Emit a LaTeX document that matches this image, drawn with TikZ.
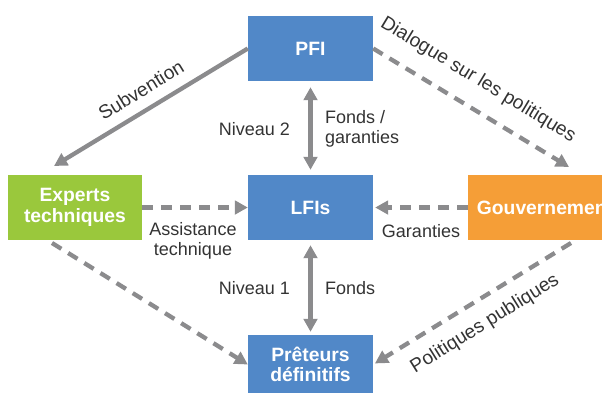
\documentclass[tikz,border=0pt]{standalone}
\usepackage{fontspec}
\setmainfont{Liberation Sans}
\usetikzlibrary{arrows.meta}
\definecolor{boxblue}{HTML}{5188C8}
\definecolor{boxgreen}{HTML}{9AC83C}
\definecolor{boxorange}{HTML}{F59E37}
\definecolor{arrowgray}{HTML}{8B8B8D}
\definecolor{labelgray}{HTML}{333333}
\begin{document}
\begin{tikzpicture}[x=1pt,y=-1pt,
  box/.style={fill=#1, text=white, font=\fontsize{19.3}{20.5}\selectfont\bfseries, align=center, inner sep=0pt},
  lbl/.style={text=labelgray, font=\fontsize{18}{20}\selectfont, inner sep=0pt},
  rlbl/.style={lbl, font=\fontsize{19.2}{20}\selectfont},
  conn/.style={draw=arrowgray, line width=4.3pt, -{Triangle[length=13pt,width=13.5pt]}},
  dashconn/.style={conn, dash pattern=on 11pt off 8pt},
  both/.style={draw=arrowgray, line width=4.3pt, {Triangle[length=13pt,width=13.5pt]}-{Triangle[length=13pt,width=13.5pt]}}]
\useasboundingbox (0,0) rectangle (602,392);
\clip (0,0) rectangle (602,392);
% boxes
\node[box=boxblue, minimum width=125pt, minimum height=65pt] (pfi) at (310.5,48.5) {PFI};
\node[box=boxblue, minimum width=125pt, minimum height=65pt] (lfi) at (310.5,207.5) {LFIs};
\node[box=boxgreen, minimum width=134pt, minimum height=65pt] (exp) at (75,207.5) {Experts\\techniques};
\node[box=boxorange, minimum width=154pt, minimum height=65pt] (gov) at (545,207.5) {Gouvernement};
\node[box=boxblue, minimum width=125pt, minimum height=59pt] (pret) at (310.5,364.5) {Prêteurs\\définitifs};
% free ends
\coordinate (subend) at (54,166);
\coordinate (dialend) at (569,167);
\coordinate (expstart) at (52,243);
\coordinate (govstart) at (571,243);
% connectors
\draw[conn] (pfi.west) -- (subend);
\draw[dashconn] (pfi.east) -- (dialend);
\draw[both, shorten <=6pt, shorten >=5pt] (pfi.south) -- (lfi.north);
\draw[both, shorten <=5pt, shorten >=3pt] (lfi.south) -- (pret.north);
\draw[dashconn] (exp.east) -- (lfi.west);
\draw[dashconn, shorten >=2pt] (gov.west) -- (lfi.east);
\draw[dashconn] (expstart) -- (pret.west);
\draw[dashconn, shorten >=2pt] (govstart) -- (pret.east);
% labels
\node[rlbl, rotate=31.5] (lsub) at (141,90) {Subvention};
\node[rlbl, rotate=-31.2] (ldial) at (478,80) {Dialogue sur les politiques};
\node[rlbl, rotate=32] (lpol) at (485,324) {Politiques publiques};
\node[lbl, anchor=base east] (lniv2) at (290,135) {Niveau 2};
\node[lbl, anchor=west, align=left] (lfg) at (325,129) {Fonds /\\garanties};
\node[lbl, align=center] (lass) at (193,240.5) {Assistance\\technique};
\node[lbl, anchor=base] (lgar) at (421,237) {Garanties};
\node[lbl, anchor=base east] (lniv1) at (290,294) {Niveau 1};
\node[lbl, anchor=base west] (lfonds) at (325,294) {Fonds};
\end{tikzpicture}
\end{document}
